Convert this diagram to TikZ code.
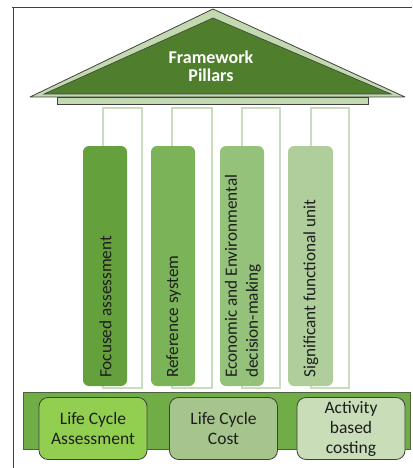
\documentclass[tikz,border=0pt]{standalone}
\usepackage{fontspec}
\setmainfont{Carlito}
\definecolor{edge}{HTML}{404040}
\definecolor{roofdark}{HTML}{4F7F2C}
\definecolor{rooflight}{HTML}{C3D9B0}
\definecolor{colline}{HTML}{C9DCBC}
\definecolor{barA}{HTML}{64A03C}
\definecolor{barB}{HTML}{7BB458}
\definecolor{barC}{HTML}{95C27B}
\definecolor{barD}{HTML}{AFCE9B}
\definecolor{basegreen}{HTML}{70AD47}
\definecolor{boxA}{HTML}{92CF50}
\definecolor{boxB}{HTML}{A6C58C}
\definecolor{boxC}{HTML}{C9DDB9}
\definecolor{txt}{HTML}{1E1E1E}
\begin{document}
\begin{tikzpicture}[x=1pt,y=-1pt,
  colbox/.style={draw=colline,fill=white,line width=1.2pt},
  bar/.style={rounded corners=6pt,draw=none},
  bartext/.style={rotate=90,anchor=west,align=left,text=txt,font=\fontsize{17.2}{21}\selectfont,inner sep=0pt},
  basebox/.style={draw=edge,line width=0.8pt,rounded corners=9pt,minimum width=108pt,minimum height=62pt,align=center,text=txt,font=\fontsize{17.5}{20}\selectfont,inner sep=0pt}]
\useasboundingbox (0,0) rectangle (412,468);
% frame
\draw[edge,line width=1pt] (12,8) -- (412,8);
\draw[edge,line width=1pt] (13,8) -- (13,468);
% roof
\coordinate (apex) at (213,9);
\coordinate (rl) at (30,97);
\coordinate (rr) at (405,97);
\draw[edge,fill=rooflight,line width=0.8pt,line join=round] (rl) -- (apex) -- (rr) -- cycle;
\coordinate (iapex) at (213,18);
\coordinate (il) at (44,94);
\coordinate (ir) at (391,94);
\draw[edge,fill=roofdark,line width=0.6pt] (il) -- (iapex) -- (ir) -- cycle;
\node[text=white,align=center,font=\fontsize{18}{18}\selectfont\bfseries] (title) at (211,66) {Framework\\Pillars};
% beam
\draw[edge,fill=rooflight,line width=0.8pt] (57,97) rectangle (368,104);
% column outlines
\draw[colbox] (103,108) rectangle (142,388);
\draw[colbox] (172,108) rectangle (212,388);
\draw[colbox] (242,108) rectangle (280,388);
\draw[colbox] (311,108) rectangle (349,388);
% bars
\fill[bar,barA] (83,146) rectangle (127,386);
\fill[bar,barB] (151,146) rectangle (195,386);
\fill[bar,barC] (220,146) rectangle (264,386);
\fill[bar,barD] (288,146) rectangle (333,386);
\node[bartext] (p1) at (105.5,378) {Focused assessment};
\node[bartext] (p2) at (173.5,378) {Reference system};
\node[bartext] (p3) at (243,378) {Economic and Environmental\\decision-making};
\node[bartext] (p4) at (311,378) {Significant functional unit};
% base
\draw[edge!70!basegreen,fill=basegreen,line width=0.8pt] (23,392) rectangle (410,449);
\node[basebox,fill=boxA] (b1) at (93,428.5) {Life Cycle\\Assessment};
\node[basebox,fill=boxB] (b2) at (223.5,428.5) {Life Cycle\\Cost};
\node[basebox,fill=boxC] (b3) at (351,428.5) {Activity\\based\\costing};
\end{tikzpicture}
\end{document}
